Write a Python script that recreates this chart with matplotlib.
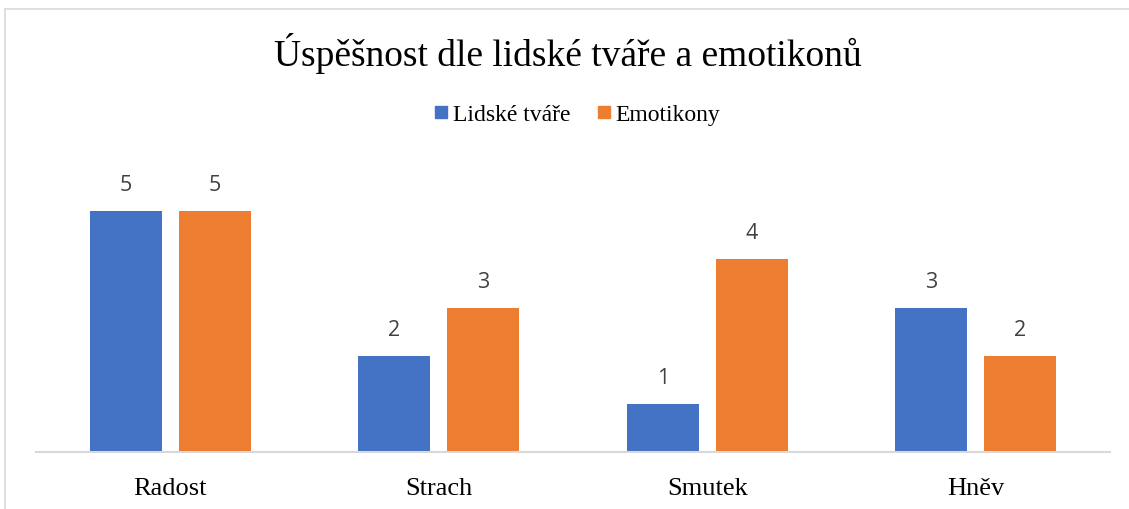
import matplotlib.pyplot as plt
import numpy as np
from matplotlib.lines import Line2D

# Data
categories = ["Radost", "Strach", "Smutek", "Hněv"]
lidske_tvare = [5, 2, 1, 3]
emotikony = [5, 3, 4, 2]
series_names = ["Lidské tváře", "Emotikony"]
title = "Úspěšnost dle lidské tváře a emotikonů"

blue = "#4472C4"
orange = "#ED7D31"
serif = ["Liberation Serif", "DejaVu Serif"]

fig = plt.figure(figsize=(11.29, 5.10), dpi=100)
ax = fig.add_axes([36 / 1129, 57 / 510, 1074 / 1129, 289 / 510])

x = np.arange(len(categories))
w = 0.268
off = 0.166
b1 = ax.bar(x - off, lidske_tvare, w, color=blue)
b2 = ax.bar(x + off, emotikony, w, color=orange)

for bars in (b1, b2):
    for r in bars:
        ax.annotate(f"{r.get_height():g}", (r.get_x() + r.get_width() / 2, r.get_height()),
                    xytext=(0, 19), textcoords="offset points", ha="center", va="center",
                    fontsize=15.5, color="#404040", family=["Open Sans", "DejaVu Sans"])

ax.set_xlim(-0.5, len(categories) - 0.5)
ax.set_ylim(0, 6)
ax.set_yticks([])
ax.set_xticks(x)
ax.set_xticklabels(categories, family=serif, fontsize=19)
ax.tick_params(axis="x", length=0, pad=18)
for s in ["top", "right", "left"]:
    ax.spines[s].set_visible(False)
ax.spines["bottom"].set_color("#D9D9D9")
ax.spines["bottom"].set_linewidth(1.5)

fig.text(568 / 1129, 1 - 54 / 510, title, ha="center", va="center", family=serif, fontsize=27)

handles = [Line2D([], [], marker="s", linestyle="", markersize=8, color=c) for c in (blue, orange)]
fig.legend(handles, series_names, loc="center", bbox_to_anchor=(576 / 1129, 1 - 115 / 510),
           ncol=2, frameon=False, prop={"family": serif, "size": 17},
           handletextpad=0.1, columnspacing=1.0, handlelength=0.8)

# light chart border (top and left)
fig.add_artist(Line2D([5 / 1129, 5 / 1129], [0, 1 - 10 / 510], transform=fig.transFigure,
                      color="#D9D9D9", linewidth=1.2))
fig.add_artist(Line2D([5 / 1129, 1], [1 - 10 / 510, 1 - 10 / 510], transform=fig.transFigure,
                      color="#D9D9D9", linewidth=1.2))

fig.savefig("out.png", dpi=100)
